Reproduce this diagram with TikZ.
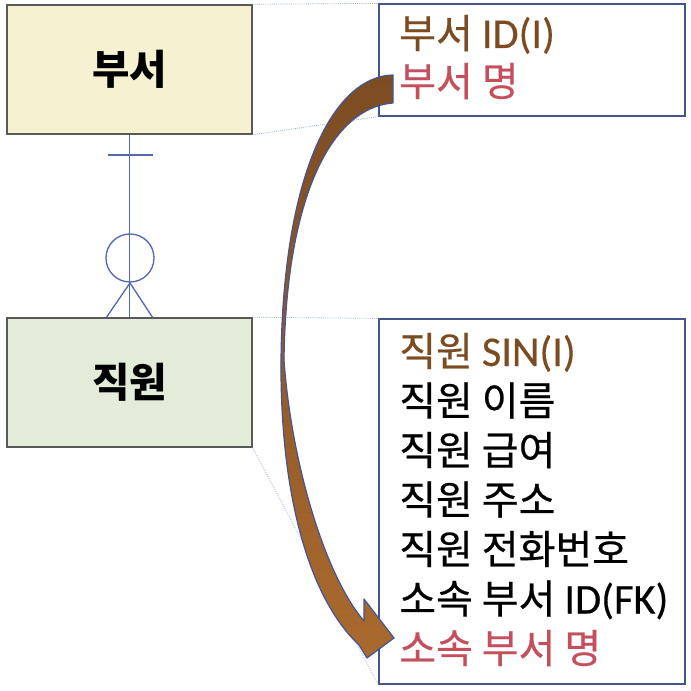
\documentclass[tikz,border=0pt]{standalone}
\usepackage{fontspec}
\setmainfont{Noto Sans CJK KR}
\newfontfamily\attrfont{Noto Sans CJK KR}[FakeBold=0.5]
\newfontfamily\latinfont{Carlito}[Scale=1.06, FakeBold=0.3]
\usepackage{xcolor}

\begin{document}
\begin{tikzpicture}[x=0.75pt,y=0.75pt,yscale=-1,xscale=1,
    entity/.style={draw={rgb, 255:red, 89; green, 89; blue, 89 }, line width=1.1pt, minimum width=183.75pt, minimum height=96.75pt, inner sep=0pt, font=\fontsize{30.5}{36}\selectfont\bfseries},
    attrbox/.style={draw={rgb, 255:red, 68; green, 84; blue, 140 }, line width=0.9pt, minimum width=229.5pt, inner sep=0pt},
    attr/.style={anchor=base west, inner sep=0.75pt, font=\fontsize{30}{36}\selectfont\attrfont},
    zoomline/.style={draw={rgb, 255:red, 143; green, 163; blue, 208 }, densely dotted, line width=0.6pt},
    relline/.style={draw={rgb, 255:red, 84; green, 104; blue, 172 }, line width=1pt}]
        \path [use as bounding box] (0,0) rectangle (690,691);
        
        %Shape: Rectangle [entity]
        \node (dept) [entity, fill={rgb, 255:red, 246; green, 241; blue, 208 }] at (129.5,69.5) {부서};
        %Shape: Rectangle [entity]
        \node (emp) [entity, fill={rgb, 255:red, 227; green, 235; blue, 217 }] at (129.5,382.5) {직원};
        %Shape: Rectangle [attributes]
        \node (deptattr) [attrbox, minimum height=84pt] at (532,60) {};
        %Shape: Rectangle [attributes]
        \node (empattr) [attrbox, minimum height=273.75pt] at (532,501.5) {};
        
        %Straight Lines [zoom]
        \draw [zoomline] (dept.north east) -- (deptattr.north west);
        \draw [zoomline] (dept.south east) -- (deptattr.south west);
        \draw [zoomline] (emp.north east) -- (empattr.north west);
        \draw [zoomline] (emp.south east) -- (empattr.south west);
        
        %Relationship: one and only one -- zero or many
        \draw [relline] (dept.south) -- (emp.north);
        \coordinate (bar) at (130,155);
        \draw [relline] (bar) ++(-22,0) -- ++(45,0);
        \draw [relline] (130,258) circle (18pt);
        \coordinate (foot) at (130,283);
        \draw [relline] ([xshift=-17.25pt]emp.north) -- (foot) -- ([xshift=17.25pt]emp.north);
        
        %Shape: Curved Arrow
        \draw [draw={rgb, 255:red, 68; green, 84; blue, 150 }, line width=0.9pt, line join=round, top color={rgb, 255:red, 124; green, 76; blue, 35 }, bottom color={rgb, 255:red, 170; green, 106; blue, 46 }] (393,75) .. controls (335,76) and (283,170) .. (281,360) .. controls (280,492) and (308,597) .. (359,645) -- (367,658) -- (394,638) -- (364,599) -- (364,621) .. controls (324,574) and (291,460) .. (284,360) .. controls (286,200) and (330,108) .. (393,103) -- cycle ;
        
        % Text Node
        \draw (398,48) node (deptid) [attr, text={rgb, 255:red, 123; green, 75; blue, 34 }] {부서 {\latinfont ID(I)}};
        % Text Node
        \draw (398,96) node (deptname) [attr, text={rgb, 255:red, 196; green, 80; blue, 94 }] {부서 명};
        % Text Node
        \draw (398,366) node (empsin) [attr, text={rgb, 255:red, 123; green, 75; blue, 34 }] {직원 {\latinfont SIN(I)}};
        % Text Node
        \draw (398,415.5) node (empname) [attr] {직원 이름};
        % Text Node
        \draw (398,465) node (emppay) [attr] {직원 급여};
        % Text Node
        \draw (398,514.5) node (empaddr) [attr] {직원 주소};
        % Text Node
        \draw (398,564) node (empphone) [attr] {직원 전화번호};
        % Text Node
        \draw (398,613.5) node (empfk) [attr] {소속 부서 {\latinfont ID(FK)}};
        % Text Node
        \draw (398,663) node (empdept) [attr, text={rgb, 255:red, 196; green, 80; blue, 94 }] {소속 부서 명};
        
\end{tikzpicture}
\end{document}
